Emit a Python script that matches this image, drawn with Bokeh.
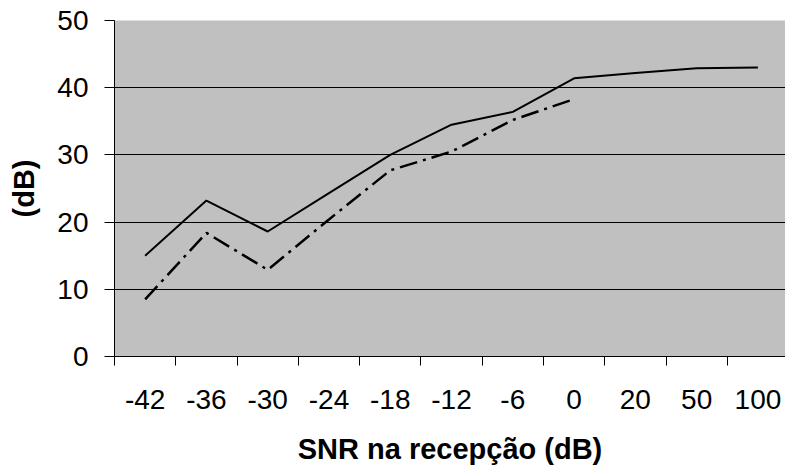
from bokeh.plotting import figure
from bokeh.models import Range1d, FixedTicker, CustomJSTickFormatter
from bokeh.embed import file_html
from bokeh.resources import INLINE

# ---- data ----
categories = ["-42", "-36", "-30", "-24", "-18", "-12", "-6", "0", "20", "50", "100"]
solid_db = [15.0, 23.2, 18.6, 24.3, 30.0, 34.5, 36.4, 41.4, 42.2, 42.9, 43.0]
dashdot_db = [8.5, 18.4, 12.9, 20.4, 27.7, 30.5, 35.2, 38.3]
y_ticks = [0, 10, 20, 30, 40, 50]

x_solid = [i + 0.5 for i in range(len(solid_db))]
x_dashdot = [i + 0.5 for i in range(len(dashdot_db))]

FONT = "Liberation Sans"

p = figure(width=785, height=468, output_backend="svg", toolbar_location=None,
           x_range=Range1d(0, 10.95), y_range=Range1d(0, 50),
           min_border_left=114, min_border_right=0, min_border_top=20,
           min_border_bottom=112)

p.background_fill_color = "#C0C0C0"
p.border_fill_color = "white"
p.outline_line_color = None

p.line(x_solid, solid_db, line_color="black", line_width=2)
p.line(x_dashdot, dashdot_db, line_color="black", line_width=2.5, line_dash="18 6 3 6")

# grid
p.xgrid.visible = False
p.ygrid.ticker = FixedTicker(ticks=y_ticks)
p.ygrid.grid_line_color = "black"
p.ygrid.grid_line_width = 1

# x axis: labels at category centres, ticks at boundaries
xa = p.xaxis[0]
xa.ticker = FixedTicker(ticks=x_solid, minor_ticks=list(range(len(categories) + 1)))
xa.formatter = CustomJSTickFormatter(args=dict(labels=categories),
                                     code="const i = Math.floor(tick); return (i >= 0 && i < labels.length) ? labels[i] : '';")
xa.major_tick_line_color = None
xa.minor_tick_line_color = "black"
xa.minor_tick_in = 0
xa.minor_tick_out = 9
xa.axis_line_color = "black"
xa.major_label_text_font = FONT
xa.major_label_text_font_size = "28px"
xa.major_label_text_color = "black"
xa.major_label_standoff = 24
xa.axis_label = "SNR na recepção (dB)"
xa.axis_label_text_font = FONT
xa.axis_label_text_font_size = "29px"
xa.axis_label_text_font_style = "bold"
xa.axis_label_text_color = "black"
xa.axis_label_standoff = 21

# y axis
ya = p.yaxis[0]
ya.ticker = FixedTicker(ticks=y_ticks)
ya.minor_tick_line_color = None
ya.major_tick_in = 0
ya.major_tick_out = 10
ya.major_tick_line_color = "black"
ya.axis_line_color = "black"
ya.major_label_text_font = FONT
ya.major_label_text_font_size = "28px"
ya.major_label_text_color = "black"
ya.major_label_standoff = 16
ya.axis_label = "(dB)"
ya.axis_label_text_font = FONT
ya.axis_label_text_font_size = "29px"
ya.axis_label_text_font_style = "bold"
ya.axis_label_text_color = "black"
ya.axis_label_standoff = 14

open("out.html", "w").write(file_html(p, INLINE))
